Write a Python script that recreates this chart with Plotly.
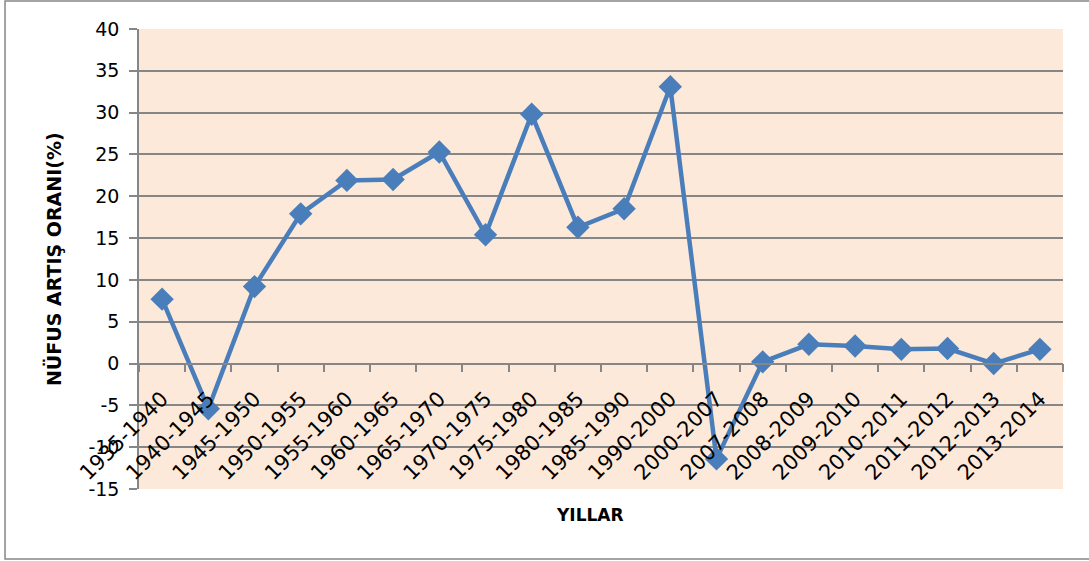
import plotly.graph_objects as go

categories = ["1935-1940", "1940-1945", "1945-1950", "1950-1955", "1955-1960",
              "1960-1965", "1965-1970", "1970-1975", "1975-1980", "1980-1985",
              "1985-1990", "1990-2000", "2000-2007", "2007-2008", "2008-2009",
              "2009-2010", "2010-2011", "2011-2012", "2012-2013", "2013-2014"]
values = [7.7, -5.4, 9.2, 17.9, 21.9, 22.0, 25.3, 15.4, 29.8, 16.3,
          18.5, 33.1, -11.4, 0.2, 2.3, 2.1, 1.7, 1.8, 0.0, 1.7]
y_ticks = [-15, -10, -5, 0, 5, 10, 15, 20, 25, 30, 35, 40]
y_ticktext = [str(v) for v in y_ticks]

y_min, y_max = -15, 40
grey = "#868686"
font = "DejaVu Sans"

fig = go.Figure()
fig.add_trace(go.Scatter(
    x=categories, y=values, mode="lines+markers",
    line=dict(color="#4A7EBB", width=4.5),
    marker=dict(symbol="diamond", size=18, color="#4A7EBB"),
    showlegend=False, cliponaxis=False,
))

fig.update_layout(
    width=1089, height=561,
    margin=dict(l=139, r=26, t=29, b=72),
    paper_bgcolor="white",
    plot_bgcolor="#FDE9D9",
    font=dict(family=font, size=19, color="black"),
    xaxis=dict(
        type="category",
        anchor="free",
        position=(0 - y_min) / (y_max - y_min),
        showline=True, linecolor=grey, linewidth=1.5,
        ticks="outside", tickson="boundaries", ticklen=8, tickcolor=grey, tickwidth=1.5,
        tickangle=-45, showgrid=False, ticklabelstandoff=14,
        tickfont=dict(family=font, size=21, color="black"),
        range=[-0.5, len(categories) - 0.5],
    ),
    yaxis=dict(
        range=[y_min, y_max], tickvals=y_ticks, ticktext=y_ticktext,
        showline=True, linecolor=grey, linewidth=1.5,
        ticks="outside", ticklen=8, tickcolor=grey, tickwidth=1.5,
        showgrid=True, gridcolor=grey, gridwidth=1.5,
        zeroline=False, ticklabelstandoff=6,
        tickfont=dict(family=font, size=19, color="black"),
    ),
    shapes=[dict(type="rect", xref="paper", yref="paper",
                 x0=-0.145, x1=1.2, y0=-0.152, y1=1.061,
                 line=dict(color=grey, width=1.5), layer="below")],
    annotations=[
        dict(text="<b>NÜFUS ARTIŞ ORANI(%)</b>", xref="paper", yref="paper",
             x=-0.093, y=0.5, textangle=-90, showarrow=False,
             font=dict(family=font, size=19, color="black"),
             xanchor="center", yanchor="middle"),
        dict(text="<b>YILLAR</b>", xref="paper", yref="paper",
             x=0.488, y=-0.0565, showarrow=False,
             font=dict(family=font, size=17, color="black"),
             xanchor="center", yanchor="middle"),
    ],
)

fig.write_html("out.html", config={"displayModeBar": False},
               post_script="document.body.style.margin='0';document.body.style.overflow='hidden';")
